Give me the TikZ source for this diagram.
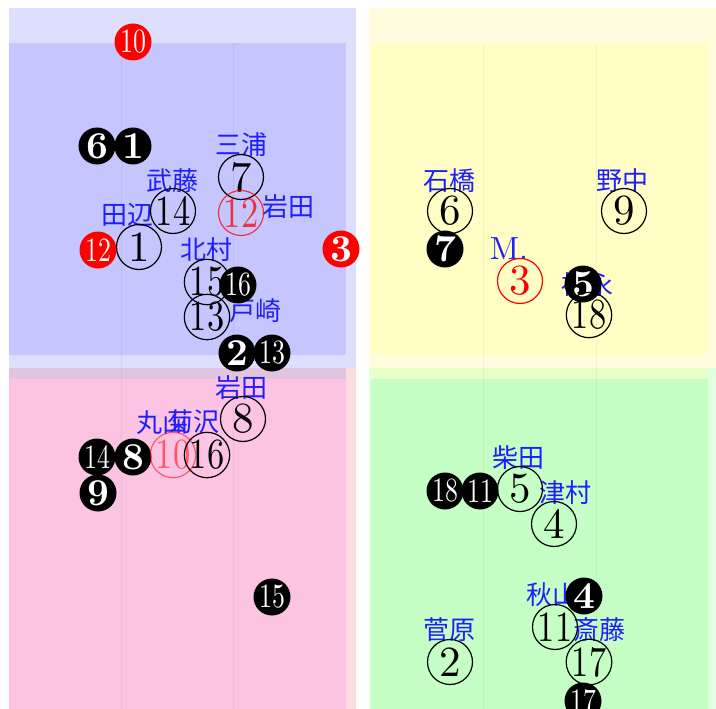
\documentclass[tikz,border=0pt]{standalone}
\usepackage{fontspec}
\usepackage{graphicx}
\newfontfamily\jp{Noto Sans CJK JP}
\newfontfamily\dig{lmroman10-regular.otf}
\newfontfamily\digb{lmroman10-bold.otf}
\definecolor{cBo}{RGB}{222,223,254}
\definecolor{cBi}{RGB}{198,198,254}
\definecolor{cPB}{RGB}{224,196,224}
\definecolor{cPo}{RGB}{253,220,222}
\definecolor{cPi}{RGB}{253,195,227}
\definecolor{cYo}{RGB}{255,253,222}
\definecolor{cYi}{RGB}{255,255,197}
\definecolor{cYG}{RGB}{232,255,200}
\definecolor{cGo}{RGB}{226,255,226}
\definecolor{cGi}{RGB}{197,255,197}
\definecolor{lblue}{RGB}{30,30,255}
\newcommand\tw[1]{\scalebox{0.8}[1]{#1}}
\newcommand\tf[1]{\scalebox{0.76}[1]{#1}}
\tikzset{
  oc/.style={circle, draw=black, line width=1.2pt, minimum size=45pt, inner sep=0pt, font=\dig\fontsize{43}{43}\selectfont},
  ocr/.style={oc, draw=red, text=red},
  fc/.style={circle, fill=black, text=white, minimum size=37pt, inner sep=0pt, font=\digb\fontsize{38}{38}\selectfont},
  fcd/.style={fc, font=\dig\fontsize{34}{34}\selectfont},
  rf/.style={fc, fill=red},
  rfd/.style={fcd, fill=red},
  lab/.style={text=lblue, inner sep=0pt, font=\jp\fontsize{26}{26}\selectfont},
  labm/.style={text=lblue, inner sep=0pt, font=\dig\fontsize{32}{32}\selectfont},
  gl/.style={draw=black, opacity=0.05, line width=0.8pt}
}
\begin{document}
\begin{tikzpicture}[x=1pt,y=-1pt]
\useasboundingbox (0,0) rectangle (716,709);
\clip (0,0) rectangle (716,709);
% quadrant backgrounds
\fill[cBo] (9,8) rectangle (356,368);
\fill[cBi] (9,43) rectangle (346,355);
\fill[cPo] (9,368) rectangle (356,709);
\fill[cPi] (9,379) rectangle (346,709);
\fill[cPB] (9,368) rectangle (346,379);
\fill[cYo] (369,8) rectangle (716,368);
\fill[cYi] (371,43) rectangle (708,355);
\fill[cGo] (369,368) rectangle (716,709);
\fill[cGi] (371,379) rectangle (708,709);
\fill[cYG] (371,368) rectangle (708,379);
\foreach \gx in {121,233,483,596} \draw[gl] (\gx,43) -- (\gx,709);
% labels
\node[lab] (lMiura) at (241,145) {三浦};
\node[lab] (lMuto) at (172,181) {武藤};
\node[lab] (lIwata1) at (288,207) {岩田};
\node[lab] (lTanabe) at (127,215) {田辺};
\node[lab] (lKita) at (206,250) {北村};
\node[lab] (lTosaki) at (255,311) {戸崎};
\node[lab] (lIwata2) at (241,388) {岩田};
\node[lab] (lMaru) at (162,423) {丸山};
\node[lab] (lKiku) at (193,422) {菊沢};
\node[lab] (lIshi) at (449,181) {石橋};
\node[lab] (lNona) at (622,181) {野中};
\node[labm] (lM) at (509,249) {M.};
\node[lab] (lFuku) at (587,285) {福永};
\node[lab] (lShiba) at (518,458) {柴田};
\node[lab] (lTsu) at (565,493) {津村};
\node[lab] (lAki) at (552,595) {秋山};
\node[lab] (lSai) at (599,630) {斎藤};
\node[lab] (lSuga) at (449,630) {菅原};
% blue quadrant
\node[rfd] (r10) at (133,42) {\tf{10}};
\node[fc] (b6) at (97,146) {6};
\node[fc] (b1) at (133,146) {1};
\node[oc] (o7) at (241,177) {7};
\node[oc] (o14) at (173,211) {\tw{14}};
\node[ocr, opacity=0.75, text opacity=0.75] (or12) at (241,213) {\tw{12}};
\node[oc] (o1) at (139,247) {1};
\node[rfd] (r12) at (98,250) {\tf{12}};
\node[rf] (r3) at (341,249) {3};
\node[oc] (o15) at (207,282) {\tw{15}};
\node[fcd] (b16) at (238,285) {\tf{16}};
\node[oc] (o13) at (207,317) {\tw{13}};
\node[fc] (b2) at (237,353) {2};
\node[fcd] (b13) at (272,353) {\tf{13}};
% pink quadrant
\node[oc] (o8) at (243,419) {8};
\node[fcd] (b14) at (97,457) {\tf{14}};
\node[fc] (b8) at (133,457) {8};
\node[ocr, opacity=0.55, text opacity=0.55] (or10) at (173,455) {\tw{10}};
\node[oc] (o16) at (207,455) {\tw{16}};
\node[fc] (b9) at (98,493) {9};
\node[fcd] (b15) at (272,597) {\tf{15}};
% yellow quadrant
\node[oc] (o6) at (450,211) {6};
\node[oc] (o9) at (624,211) {9};
\node[fc] (b7) at (445,249) {7};
\node[ocr] (or3) at (520,281) {3};
\node[fc] (b5) at (583,284) {5};
\node[oc] (o18) at (589,315) {\tw{18}};
% green quadrant
\node[fcd] (b18) at (445,491) {\tf{18}};
\node[fcd] (b11) at (480,491) {\tf{11}};
\node[oc] (o5) at (520,489) {5};
\node[oc] (o4) at (554,524) {4};
\node[fc] (b4) at (584,596) {4};
\node[oc] (o11) at (555,627) {\tw{11}};
\node[oc] (o2) at (450,662) {2};
\node[oc] (o17) at (589,662) {\tw{17}};
\node[fcd] (b17) at (583,701) {\tf{17}};
\end{tikzpicture}
\end{document}
